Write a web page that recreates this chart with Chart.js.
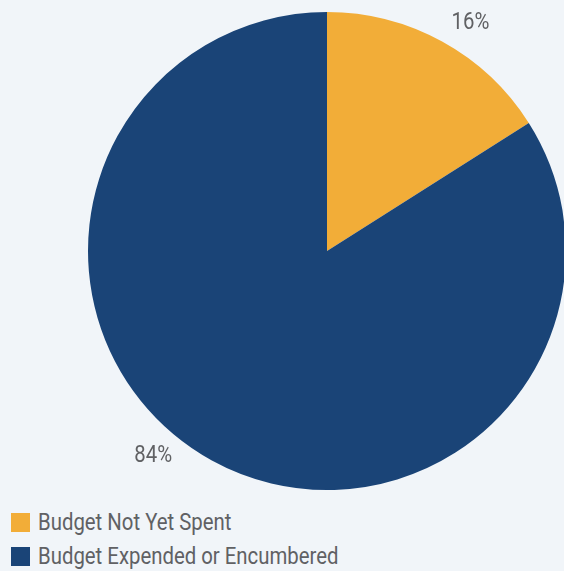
<!DOCTYPE html>
<html>
<head>
<meta charset="utf-8">
<script src="https://cdn.jsdelivr.net/npm/chart.js@4"></script>
<style>
  html, body { margin: 0; padding: 0; background: #f1f5f9; }
  #wrap { position: relative; width: 564px; height: 571px; overflow: hidden; }
  #chart-box { position: absolute; left: 0; top: 0; width: 566px; height: 500px; }
  #legend { position: absolute; left: 11px; top: 505px; font-family: Roboto, sans-serif; font-size: 23px; color: #606164; }
  .item { display: flex; align-items: center; height: 34px; }
  .box { width: 19px; height: 19px; margin-right: 8px; flex: none; }
  .txt { display: inline-block; transform: scaleX(0.885); transform-origin: left center; white-space: nowrap; }
</style>
</head>
<body>
<div id="wrap">
  <div id="chart-box"><canvas id="budget-pie"></canvas></div>
  <div id="legend"></div>
</div>
<script>
const categories = ["Budget Not Yet Spent", "Budget Expended or Encumbered"];
const shares = [16, 84];
const sliceColors = ["#f2ad38", "#1a4477"];

const labelFont = "23px Roboto, sans-serif";

// percent labels outside the slices, condensed like the legend
const outsideLabels = {
  id: "outsideLabels",
  afterDraw(chart) {
    const ctx = chart.ctx;
    const meta = chart.getDatasetMeta(0);
    const shift = [0.06, 0.2];
    ctx.save();
    ctx.font = labelFont;
    ctx.fillStyle = "#606164";
    ctx.textAlign = "center";
    ctx.textBaseline = "middle";
    meta.data.forEach((arc, i) => {
      const a = (arc.startAngle + arc.endAngle) / 2 + shift[i];
      const r = arc.outerRadius + 30;
      const x = arc.x + Math.cos(a) * r;
      const y = arc.y + Math.sin(a) * r;
      ctx.save();
      ctx.translate(x, y);
      ctx.scale(0.885, 1);
      ctx.fillText(shares[i] + "%", 0, 0);
      ctx.restore();
    });
    ctx.restore();
  },
};

const legend = document.getElementById("legend");
categories.forEach((name, i) => {
  const row = document.createElement("div");
  row.className = "item";
  row.innerHTML = `<span class="box" style="background:${sliceColors[i]}"></span><span class="txt">${name}</span>`;
  legend.appendChild(row);
});

new Chart(document.getElementById("budget-pie"), {
  type: "pie",
  data: {
    labels: categories,
    datasets: [
      {
        data: shares,
        backgroundColor: sliceColors,
        borderWidth: 0,
      },
    ],
  },
  options: {
    responsive: true,
    maintainAspectRatio: false,
    animation: false,
    layout: {
      padding: { left: 88, right: 0, top: 12, bottom: 10 },
    },
    plugins: {
      legend: { display: false },
      tooltip: { enabled: false },
    },
  },
  plugins: [outsideLabels],
});
</script>
</body>
</html>
